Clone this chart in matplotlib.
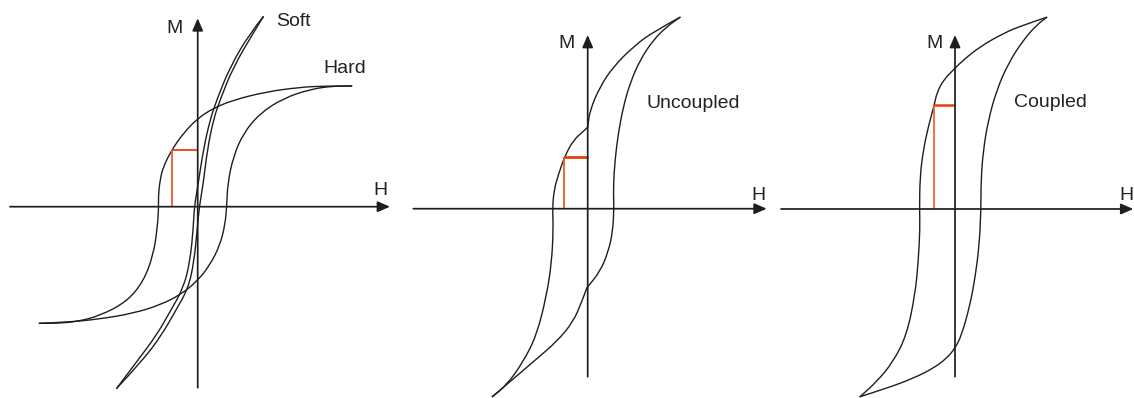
import matplotlib
matplotlib.use("Agg")
import matplotlib.pyplot as plt
from matplotlib.path import Path
from matplotlib.patches import PathPatch

plt.rcParams['font.family'] = ['Liberation Sans', 'DejaVu Sans']

W, H_PX = 1134, 398
INK = '#1e1e1e'
RED_H = '#e8400c'
RED_V = '#f05a28'

# ---- panel 1: soft vs hard magnet (H, M relative to the origin) ----
hard_down_h = [154, 125.6, 102.3, 69, 35.6, 15.6, 0, -14.4, -26, -34.4, -37.7, -39.4, -39,
               -40.4, -44.4, -54.4, -71, -97.7, -121, -141, -158.4]
hard_down_m = [120.7, 120.7, 119.4, 115, 106.7, 98.4, 88.4, 73.4, 56.7, 40, 26.7, 10, 0,
               -21.6, -48.3, -75, -95, -109, -115, -116.6, -116.6]
hard_up_h = [-158.4, -131, -97.7, -64.4, -37.7, -17.7, -1, 12.3, 22.3, 27.3, 29, 30, 35.6,
             45.6, 62.3, 85.6, 112.3, 135.6, 154]
hard_up_m = [-116.6, -115.6, -112.3, -106.6, -98.3, -88.3, -75, -58.3, -38.3, -18.3, 0, 23.4,
             50, 73.4, 93.4, 108.4, 117.4, 120.7, 120.7]
soft_down_h = [65.6, 52.3, 32.3, 19, 12.3, 5.6, 0.6, -3.4, -4.4, -7.7, -14.4, -27.7, -41, -61, -81]
soft_down_m = [190, 173.7, 139.7, 106.7, 86.7, 56.7, 23.4, 0, -21.6, -55, -81.6, -105, -128.3,
               -155, -181.6]
soft_up_h = [-81, -56, -36, -22.7, -9.4, -3.7, -0.4, 1.6, 5.6, 9.6, 15.6, 22.3, 35.6, 55.6, 65.6]
soft_up_m = [-181.6, -155, -128.3, -105, -81.6, -55, -21.6, 0, 23.4, 56.7, 86.7, 106.7, 139.7,
             173.7, 190]
hard_mark = (-26, 56.7)

# ---- panel 2: uncoupled two-phase loop (kinks where the soft phase switches) ----
unc_down_h = [[92.3, 65.6, 45.6, 25.6, 12.3, 2.3, 0],
              [0, -2.7, -14.4, -23.4, -29.4, -33.7, -35.2, -34.4, -36, -41, -51, -64.4, -81, -95.4]]
unc_down_m = [[191.4, 177, 162, 142, 122, 98.7, 81.7],
              [81.7, 78.7, 68.7, 51.4, 33.7, 18.7, 0, -19.6, -53, -86.3, -126.3, -153, -176.3, -188]]
unc_up_h = [[-95.4, -77.7, -54.4, -31, -14.4, -6, -1],
            [-1, 0, 12.3, 20.6, 25, 26.3, 25.6, 27.3, 30.6, 35.6, 42.3, 52.3, 65.6, 79, 92.3]]
unc_up_m = [[-188, -173, -153, -133, -113, -93, -79.6],
            [-79.6, -78, -63, -43, -23, 0, 22, 48.7, 75.4, 102, 125.4, 148.7, 168.7, 182, 191.4]]
unc_mark = (-23.4, 51.4)

# ---- panel 3: exchange-coupled loop ----
cpl_down_h = [91.7, 68.3, 48.3, 25, 8.3, 0, -11.7, -18.3, -20.7, -26.7, -31.7, -35, -35.5,
              -35, -36.7, -40, -48.3, -61.7, -78.3, -95]
cpl_down_m = [191.7, 184, 175.7, 162.3, 149, 140.7, 129, 115.7, 104, 82.3, 59, 32.3, 0,
              -19.3, -52.7, -86, -126, -152.7, -172.7, -187.7]
cpl_up_h = [-95, -68.3, -41.7, -21.7, -8.3, 0, 6.7, 15, 20, 24.3, 26, 26, 28.3, 33.3, 41.7,
            53.3, 68.3, 81.7, 91.7]
cpl_up_m = [-187.7, -179.3, -169.3, -159.3, -149.3, -139.3, -126, -96, -69.3, -36, 0, 29, 59,
            89, 119, 145.7, 169, 184, 191.7]
cpl_mark = (-20.7, 104)


def smooth_curve(ax, hs, ms, lw=1.0):
    # quadratic bezier through the midpoints of the traced points
    verts = [(hs[0], ms[0])]
    codes = [Path.MOVETO]
    for i in range(1, len(hs) - 1):
        mid = ((hs[i] + hs[i + 1]) / 2, (ms[i] + ms[i + 1]) / 2)
        verts += [(hs[i], ms[i]), mid]
        codes += [Path.CURVE3, Path.CURVE3]
    verts.append((hs[-1], ms[-1]))
    codes.append(Path.LINETO)
    ax.add_patch(PathPatch(Path(verts, codes), fill=False, lw=lw, ec=INK,
                           capstyle='round', joinstyle='round'))


def make_panel(left, right, x0, y0):
    # axes whose data origin sits at pixel (x0, y0), one data unit per pixel
    ax = plt.gcf().add_axes([left / W, 0, (right - left) / W, 1])
    ax.set_xlim(left - x0, right - x0)
    ax.set_ylim(y0 - H_PX, y0)
    ax.axis('off')
    return ax


def draw_axes(ax, h_span, m_span):
    arrow = dict(arrowstyle='-|>,head_length=0.62,head_width=0.27', mutation_scale=12,
                 lw=1.25, color=INK, shrinkA=0, shrinkB=0)
    ax.annotate('', xy=(h_span[1], 0), xytext=(h_span[0], 0), arrowprops=arrow,
                annotation_clip=False)
    ax.annotate('', xy=(0, m_span[1]), xytext=(0, m_span[0]), arrowprops=arrow,
                annotation_clip=False)


def draw_mark(ax, corner, lw_h, lw_v):
    ax.plot([corner[0], corner[0]], [0, corner[1]], color=RED_V, lw=lw_v, solid_capstyle='butt')
    ax.plot([corner[0], 0], [corner[1], corner[1]], color=RED_H, lw=lw_h, solid_capstyle='butt')


def label(ax, h, m, s):
    ax.text(h, m, s, fontsize=14, color='#222222', ha='center', va='baseline')


fig = plt.figure(figsize=(W / 100, H_PX / 100), dpi=100)

# panel 1
ax1 = make_panel(0, 400, 197.7, 206.7)
draw_axes(ax1, (-187.7, 192.3), (-181, 188.4))
draw_mark(ax1, hard_mark, 1.3, 1.3)
smooth_curve(ax1, hard_down_h, hard_down_m)
smooth_curve(ax1, hard_up_h, hard_up_m)
smooth_curve(ax1, soft_down_h, soft_down_m)
smooth_curve(ax1, soft_up_h, soft_up_m)
label(ax1, -22.7, 173.4, 'M')
label(ax1, 182.3, 11.7, 'H')
label(ax1, 95.3, 180.7, 'Soft')
label(ax1, 147.3, 133.4, 'Hard')

# panel 2
ax2 = make_panel(400, 770, 587.7, 208.7)
draw_axes(ax2, (-174.4, 179), (-168, 173.7))
draw_mark(ax2, unc_mark, 2.0, 1.3)
for hs, ms in zip(unc_down_h + unc_up_h, unc_down_m + unc_up_m):
    smooth_curve(ax2, hs, ms)
label(ax2, -21, 160.4, 'M')
label(ax2, 171, 8.7, 'H')
label(ax2, 105.3, 100.4, 'Uncoupled')

# panel 3
ax3 = make_panel(770, 1134, 955, 209)
draw_axes(ax3, (-174, 178.3), (-167.7, 174))
draw_mark(ax3, cpl_mark, 1.8, 1.2)
smooth_curve(ax3, cpl_down_h, cpl_down_m)
smooth_curve(ax3, cpl_up_h, cpl_up_m)
label(ax3, -20.8, 160.7, 'M')
label(ax3, 171.7, 9, 'H')
label(ax3, 95.5, 102.3, 'Coupled')

fig.savefig('out.png', dpi=100, facecolor='white')
